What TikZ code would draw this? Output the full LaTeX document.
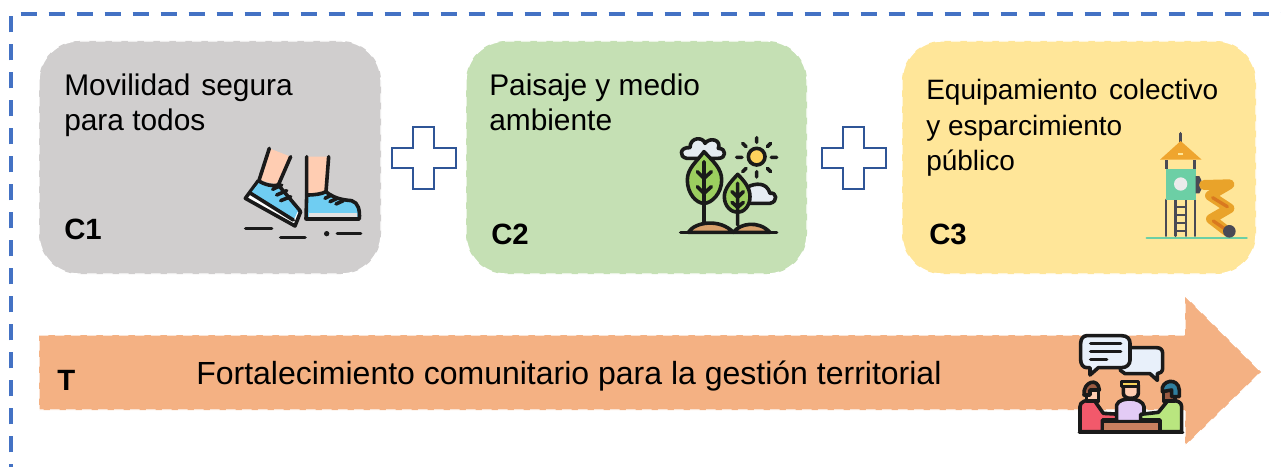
\documentclass[tikz,border=0pt]{standalone}
\usepackage{fontspec}
\setmainfont{Liberation Sans}
\definecolor{frameblue}{HTML}{4472C4}
\definecolor{plusblue}{HTML}{2F5597}
\definecolor{cardgray}{HTML}{D0CECE}
\definecolor{cardgreen}{HTML}{C5E0B4}
\definecolor{cardyellow}{HTML}{FFE699}
\definecolor{arroworange}{HTML}{F4B183}
\definecolor{ink}{HTML}{1A1A1A}
\definecolor{skin}{HTML}{FFCDB2}
\definecolor{shoeblue}{HTML}{6FCDF2}
\definecolor{leafgreen}{HTML}{9CCF5F}
\definecolor{soil}{HTML}{D9A06B}
\definecolor{sun}{HTML}{FFD35C}
\definecolor{cloudw}{HTML}{E6ECF2}
\definecolor{roof}{HTML}{EFA52E}
\definecolor{slide}{HTML}{E9A32A}
\definecolor{slidedark}{HTML}{D9791F}
\definecolor{towerteal}{HTML}{6CCFA5}
\definecolor{post}{HTML}{4A4A55}
\definecolor{bubble}{HTML}{E8F0FA}
\definecolor{redshirt}{HTML}{F2596B}
\definecolor{lilac}{HTML}{E3CBF5}
\definecolor{limeshirt}{HTML}{B9E67F}
\definecolor{tabletop}{HTML}{C97F5F}
\definecolor{hairbrown}{HTML}{9C5B42}
\definecolor{hairblue}{HTML}{2F7F9F}
\definecolor{hairyellow}{HTML}{F7D35A}
\tikzset{
  card/.style={draw=white,dash pattern=on 7pt off 5pt,line width=1pt,rounded corners=30pt},
  plusmark/.style={draw=plusblue,line width=1.9pt,fill=white,line join=miter},
  cardtext/.style={anchor=north west,align=left,inner sep=0pt,font=\fontsize{22.4}{26.3}\selectfont},
  tag/.style={anchor=base west,inner sep=0pt,font=\fontsize{22}{26}\selectfont\bfseries},
  icon/.style={x=0.25pt,y=-0.25pt,line width=2.7pt,line join=round,line cap=round,draw=ink},
}
\begin{document}
\begin{tikzpicture}[x=0.75pt,y=-0.75pt]
\useasboundingbox (0,0) rectangle (1281,467);
\fill[white] (0,0) rectangle (1281,467);
% frame
\draw[frameblue,line width=3pt,dash pattern=on 12pt off 9pt,dash phase=10pt] (11,467) -- (11,14) -- (1281,14);
% cards
\path[card,fill=cardgray] (39,41) rectangle (381,274);
\path[card,fill=cardgreen] (466,41) rectangle (807,274);
\path[card,fill=cardyellow] (902,41) rectangle (1256,274);
% plus marks
\foreach \dx in {0,430}{
  \begin{scope}[shift={(\dx,0)}]
  \draw[plusmark] (413,127) -- (434,127) -- (434,148) -- (456,148) -- (456,168) -- (434,168) -- (434,189) -- (413,189) -- (413,168) -- (392,168) -- (392,148) -- (413,148) -- cycle;
  \end{scope}
}
% arrow
\path[fill=arroworange,draw=white,dash pattern=on 7pt off 5pt,line width=.8pt]
  (39,335) -- (1185,335) -- (1185,296) -- (1261,372) -- (1185,446) -- (1185,410) -- (39,410) -- cycle;
% texts
\node[cardtext] (t1) at (64,74) {Movilidad\hspace{2pt} segura\\para todos};
\node[cardtext] (t2) at (489,74) {Paisaje y medio\\ambiente};
\node[cardtext,font=\fontsize{21}{26.6}\selectfont] (t3) at (926,79) {Equipamiento\hspace{3pt} colectivo\\y esparcimiento\\público};
\node[tag] (c1) at (64,239) {C1};
\node[tag] (c2) at (491,244) {C2};
\node[tag] (c3) at (929,244) {C3};
\node[tag] (tt) at (57,390) {T};
\node[anchor=base west,inner sep=0pt,font=\fontsize{24}{28}\selectfont] (ft) at (196,384) {Fortalecimiento comunitario para la gestión territorial};
% walking feet icon
\begin{scope}[shift={(230,130)},icon]
  \fill[skin] (118,55) -- (182,80) -- (145,165) -- (90,150) -- cycle;
  \draw (118,55) -- (88,148) (182,80) -- (145,165);
  \draw[fill=white] (46,205) -- (195,288) -- (212,245) -- (85,152) -- cycle;
  \fill[shoeblue] (62,190) -- (87,158) .. controls (105,168) and (130,172) .. (145,168) -- (205,240) -- (190,272) -- cycle;
  \draw (85,152) .. controls (105,165) and (130,170) .. (145,165) -- (210,242);
  \draw (62,190) -- (190,270);
  \draw (128,178) -- (155,165) (140,195) -- (170,182) (152,212) -- (182,200);
  \fill[skin] (230,80) -- (296,80) -- (288,185) -- (232,195) -- cycle;
  \draw (230,80) -- (230,195) (296,80) -- (288,185);
  \draw[fill=shoeblue] (230,195) .. controls (255,195) and (275,192) .. (288,185) .. controls (310,205) and (340,210) .. (365,212) .. controls (385,218) and (390,240) .. (388,267) -- (228,267) -- cycle;
  \fill[cardgray!60!white] (236,250) rectangle (382,262);
  \draw (285,205) -- (305,195) (300,215) -- (322,205) (318,222) -- (340,212);
  \draw (47,295) -- (125,295) (152,322) -- (225,322) (322,311) -- (392,311);
  \fill[ink] (290,311) circle[radius=8];
\end{scope}
% trees icon
\begin{scope}[shift={(670,125)},icon]
  \draw[fill=cloudw] (50,100) .. controls (25,95) and (30,65) .. (60,68) .. controls (60,35) and (100,35) .. (105,55) .. controls (120,35) and (155,45) .. (145,70) .. controls (170,70) and (170,100) .. (145,100) -- cycle;
  \draw[fill=leafgreen] (102,80) .. controls (130,110) and (155,130) .. (155,165) .. controls (155,205) and (125,235) .. (102,235) .. controls (78,235) and (52,205) .. (52,165) .. controls (52,130) and (80,110) .. (102,80) -- cycle;
  \draw (102,110) -- (102,295) (82,140) -- (102,160) -- (124,140) (82,185) -- (102,205) -- (124,185);
  \draw[fill=cloudw] (235,235) -- (300,235) .. controls (325,230) and (320,200) .. (300,205) .. controls (290,170) and (255,175) .. (235,185) -- cycle;
  \draw[fill=leafgreen] (203,148) .. controls (225,170) and (240,190) .. (240,215) .. controls (240,245) and (220,262) .. (203,262) .. controls (185,262) and (163,245) .. (163,215) .. controls (163,190) and (183,170) .. (203,148) -- cycle;
  \draw (203,175) -- (203,300) (186,200) -- (203,217) -- (220,200) (186,232) -- (203,247) -- (220,232);
  \draw[fill=soil] (55,322) .. controls (75,290) and (150,280) .. (190,322) -- cycle;
  \draw[fill=soil] (190,322) .. controls (210,295) and (265,285) .. (300,322) -- cycle;
  \draw (32,323) -- (320,323);
  \draw[fill=sun] (260,95) circle[radius=25];
  \draw (260,38) -- (260,52) (260,140) -- (260,156) (200,97) -- (216,97) (304,97) -- (320,97)
        (218,55) -- (228,65) (292,65) -- (302,55) (218,140) -- (228,130) (292,130) -- (302,140);
\end{scope}
% playground icon
\begin{scope}[shift={(1130,125)},icon,draw=post]
  \draw[towerteal,line width=1.8pt] (50,339) -- (350,339);
  \draw[line width=2.6pt] (152,26) -- (152,50);
  \fill[roof] (152,48) -- (215,104) -- (90,104) -- cycle;
  \fill[cardyellow] (143,84) rectangle (160,90);
  \draw[line width=2.2pt,line cap=butt] (110,105) -- (110,132) (193,105) -- (193,132);
  \draw[line width=2.2pt] (108,225) -- (108,332) (195,225) -- (195,332) (136,225) -- (136,332) (168,225) -- (168,332);
  \draw[line width=1.5pt,line cap=butt] (136,245) -- (168,245) (136,270) -- (168,270) (136,295) -- (168,295) (136,318) -- (168,318);
  \fill[towerteal] (108,132) rectangle (197,225);
  \fill[white!92!black] (152,177) circle[radius=20];
  \fill[post] (197,153) -- (208,153) .. controls (218,165) and (218,195) .. (208,205) -- (197,205) -- cycle;
  \draw[slide,line width=7.5pt] (222,180) -- (298,178) -- (240,212) -- (298,250) -- (243,282) -- (290,318);
  \draw[slidedark,line width=2.5pt] (248,218) -- (292,245) (250,288) -- (285,312);
  \fill[post] (298,319) circle[radius=19];
\end{scope}
% people icon
\begin{scope}[shift={(1070,325)},icon]
  \draw[fill=bubble] (160,90) -- (160,72) .. controls (160,70) and (165,68) .. (172,68) -- (260,68) .. controls (272,68) and (278,75) .. (278,85) -- (278,130) .. controls (278,140) and (270,146) .. (262,146) -- (262,166) -- (240,146) -- (165,146) -- (150,135);
  \draw[fill=bubble] (50,32) -- (155,32) .. controls (172,32) and (180,42) .. (180,55) -- (180,105) .. controls (180,118) and (170,128) .. (155,128) -- (85,128) -- (60,150) -- (60,128) -- (50,128) .. controls (40,128) and (32,118) .. (32,105) -- (32,55) .. controls (32,42) and (40,32) .. (50,32) -- cycle;
  \draw (62,55) -- (152,55) (62,80) -- (152,80) (62,104) -- (110,104);
  \draw[fill=redshirt] (30,320) -- (30,245) .. controls (30,230) and (45,225) .. (72,225) -- (100,265) -- (152,268) -- (152,285) -- (97,285) -- (97,320) -- cycle;
  \draw[fill=skin] (50,195) rectangle (85,228);
  \draw[fill=hairbrown] (42,210) .. controls (38,170) and (85,155) .. (88,195) -- (60,195) -- (60,210) -- cycle;
  \draw[fill=lilac] (140,290) -- (140,240) .. controls (145,225) and (165,222) .. (180,222) .. controls (200,222) and (220,230) .. (222,245) -- (222,290) -- cycle;
  \draw[fill=skin] (160,180) -- (205,180) -- (205,205) .. controls (205,225) and (160,225) .. (160,205) -- cycle;
  \draw[fill=hairyellow] (155,185) -- (155,170) -- (205,170) -- (205,185) -- cycle;
  \draw[fill=limeshirt] (335,320) -- (335,245) .. controls (335,230) and (320,225) .. (295,225) -- (265,262) -- (212,268) -- (212,285) -- (270,285) -- (270,320) -- cycle;
  \draw[fill=hairbrown] (280,190) rectangle (315,228);
  \draw[fill=hairblue] (277,200) .. controls (270,165) and (325,155) .. (328,195) -- (328,215) -- (305,215) -- (305,195) -- cycle;
  \draw[fill=tabletop] (97,290) rectangle (270,320);
  \draw (28,322) -- (338,322);
\end{scope}
\end{tikzpicture}
\end{document}
